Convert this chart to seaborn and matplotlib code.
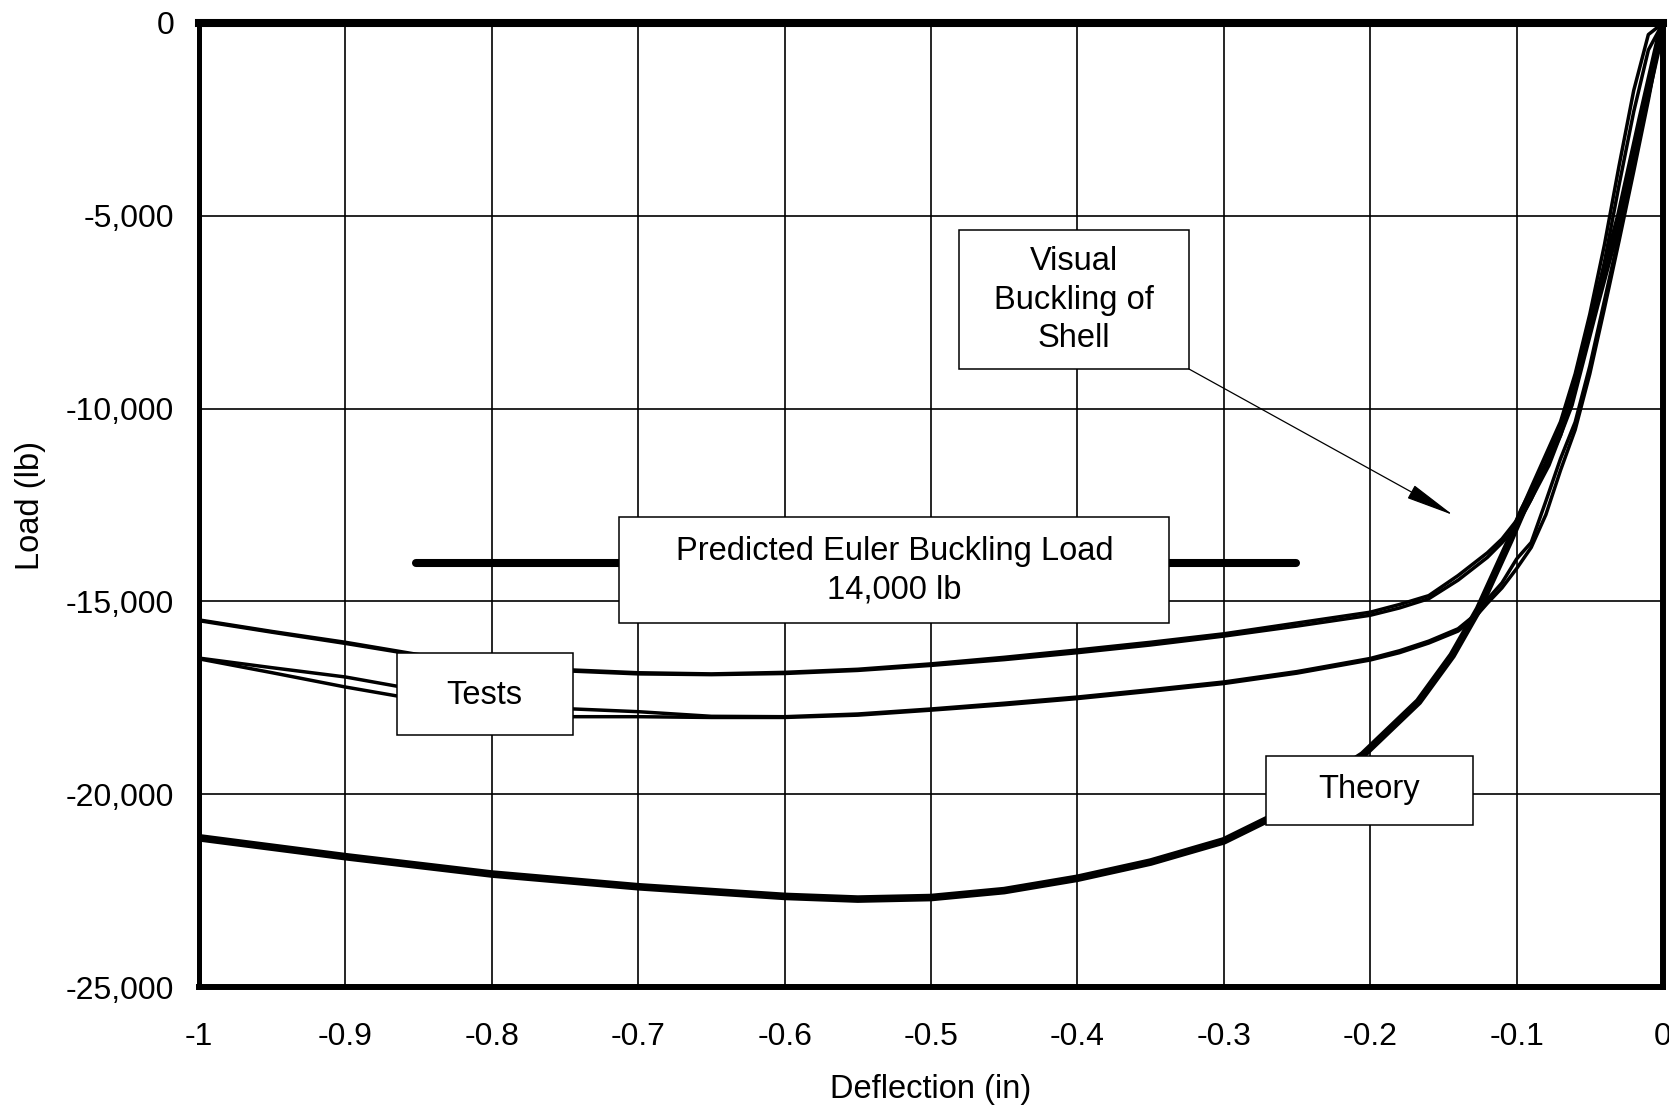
import matplotlib
matplotlib.use("Agg")
import matplotlib.pyplot as plt
from matplotlib.patches import Rectangle
import pandas as pd
import seaborn as sns

# ---- data -------------------------------------------------------------
theory_defl = [-1.0, -0.9, -0.8, -0.7, -0.6, -0.55, -0.5, -0.45, -0.4, -0.35,
               -0.3, -0.27, -0.24, -0.205, -0.186, -0.167, -0.144, -0.126,
               -0.1045, -0.0956, -0.0792, -0.0635, -0.0458, -0.0294, -0.015, 0.0]
theory_load = [-21130, -21620, -22070, -22400, -22650, -22720, -22680, -22500,
               -22180, -21760, -21210, -20650, -19850, -18980, -18290, -17600,
               -16400, -15200, -13410, -12630, -11450, -9900, -7300, -4980,
               -2500, 0]

test_hi_defl = [-1.0, -0.95, -0.9, -0.85, -0.8, -0.75, -0.7, -0.65, -0.6, -0.55,
                -0.5, -0.45, -0.4, -0.35, -0.3, -0.25, -0.2, -0.18, -0.16, -0.14,
                -0.12, -0.11, -0.10, -0.09, -0.08, -0.07, -0.06, -0.05, -0.04,
                -0.03, -0.02, -0.01, 0.0]
test1_load = [-15480, -15780, -16060, -16380, -16600, -16770, -16850, -16880,
              -16840, -16760, -16620, -16450, -16260, -16060, -15840, -15560,
              -15280, -15080, -14850, -14330, -13740, -13380, -12900, -12040,
              -11190, -10340, -9100, -7550, -5750, -3700, -1750, -300, 0]
test2_load = [-15500, -15800, -16090, -16400, -16640, -16800, -16880, -16900,
              -16870, -16790, -16660, -16510, -16330, -16130, -15900, -15640,
              -15360, -15170, -14930, -14450, -13860, -13480, -13050, -12350,
              -11500, -10700, -9500, -7900, -6200, -4200, -2300, -700, 0]

test_lo_defl = [-1.0, -0.95, -0.9, -0.85, -0.8, -0.75, -0.7, -0.65, -0.6, -0.55,
                -0.5, -0.45, -0.4, -0.35, -0.3, -0.25, -0.2, -0.18, -0.16, -0.14,
                -0.13, -0.12, -0.11, -0.10, -0.09, -0.08, -0.07, -0.06, -0.05,
                -0.04, -0.03, -0.02, -0.01, 0.0]
test3_load = [-16470, -16720, -16960, -17300, -17650, -17780, -17860, -17980,
              -17990, -17920, -17790, -17640, -17480, -17290, -17090, -16820,
              -16480, -16280, -16030, -15710, -15400, -14950, -14520, -13900,
              -13470, -12400, -11300, -10350, -8900, -7200, -5500, -3700,
              -1900, 0]
test4_load = [-16490, -16850, -17220, -17550, -17900, -17990, -17990, -18010,
              -18010, -17950, -17820, -17680, -17520, -17330, -17130, -16860,
              -16520, -16330, -16080, -15770, -15480, -15050, -14650, -14150,
              -13600, -12750, -11600, -10550, -9100, -7400, -5650, -3850,
              -2000, 0]

euler_load = -14000
euler_defl = [-0.852, -0.251]

x_ticks = [-1.0, -0.9, -0.8, -0.7, -0.6, -0.5, -0.4, -0.3, -0.2, -0.1, 0.0]
x_tick_labels = ["-1", "-0.9", "-0.8", "-0.7", "-0.6", "-0.5", "-0.4",
                 "-0.3", "-0.2", "-0.1", "0"]
y_ticks = [0, -5000, -10000, -15000, -20000, -25000]
y_tick_labels = ["0", "-5,000", "-10,000", "-15,000", "-20,000", "-25,000"]

# ---- style --------------------------------------------------------------
sns.set_theme(style="white")
plt.rcParams["font.family"] = ["Liberation Sans", "DejaVu Sans"]
FS_TICK = 23
FS_TEXT = 23.5

fig = plt.figure(figsize=(16.69, 11.12), dpi=100)
ax = fig.add_axes([199 / 1669, 125 / 1112, 1464 / 1669, 964 / 1112])

tests = pd.concat([
    pd.DataFrame({"defl": test_hi_defl, "load": test1_load, "run": "T1"}),
    pd.DataFrame({"defl": test_hi_defl, "load": test2_load, "run": "T2"}),
    pd.DataFrame({"defl": test_lo_defl, "load": test3_load, "run": "T3"}),
    pd.DataFrame({"defl": test_lo_defl, "load": test4_load, "run": "T4"}),
])
sns.lineplot(data=tests, x="defl", y="load", units="run", estimator=None,
             sort=False, color="black", lw=2.5, ax=ax, zorder=3)
sns.lineplot(x=theory_defl, y=theory_load, sort=False, color="black",
             lw=5.5, ax=ax, zorder=3)
sns.lineplot(x=euler_defl, y=[euler_load, euler_load], sort=False,
             color="black", lw=5.8, ax=ax, zorder=3)

ax.set_xlim(-1, 0)
ax.set_ylim(-25000, 0)
ax.set_xticks(x_ticks)
ax.set_xticklabels(x_tick_labels)
ax.set_yticks(y_ticks)
ax.set_yticklabels(y_tick_labels)
ax.tick_params(axis="both", length=0, labelsize=FS_TICK, colors="black")
ax.tick_params(axis="x", pad=25)
ax.tick_params(axis="y", pad=18)
ax.grid(True, color="black", lw=1.2)
ax.set_axisbelow(True)

for side, w in (("top", 5.8), ("left", 3.6), ("bottom", 4.3), ("right", 4.3)):
    ax.spines[side].set_visible(True)
    ax.spines[side].set_color("black")
    ax.spines[side].set_linewidth(w)

ax.set_xlabel("Deflection (in)", fontsize=FS_TEXT, color="black", va="center")
ax.set_ylabel("Load (lb)", fontsize=FS_TEXT, color="black", va="center")
ax.xaxis.set_label_coords(0.5, -0.1068)
ax.yaxis.set_label_coords(-0.1154, 0.5)


def label_box(x0, x1, y0, y1, text, tx, ty):
    ax.add_patch(Rectangle((x0, y0), x1 - x0, y1 - y0, facecolor="white",
                           edgecolor="black", lw=1.1, zorder=5))
    ax.text(tx, ty, text, fontsize=FS_TEXT, ha="center", va="center",
            linespacing=1.33, color="black", zorder=6)


label_box(-0.7128, -0.3376, -15560, -12811,
          "Predicted Euler Buckling Load\n14,000 lb", -0.525, -14211)
label_box(-0.8648, -0.7446, -18452, -16351, "Tests", -0.8053, -17428)
label_box(-0.2714, -0.1297, -20797, -19002, "Theory", -0.2008, -19890)
label_box(-0.4809, -0.3238, -8973, -5368,
          "Visual\nBuckling of\nShell", -0.4023, -7184)

ax.annotate("", xy=(-0.1434, -12760), xytext=(-0.3238, -8973),
            arrowprops=dict(arrowstyle="-|>,head_length=3.1,head_width=0.47",
                            mutation_scale=10, color="black", lw=0.9,
                            shrinkA=0, shrinkB=0), zorder=4)

fig.savefig("out.png", dpi=100, facecolor="white")
